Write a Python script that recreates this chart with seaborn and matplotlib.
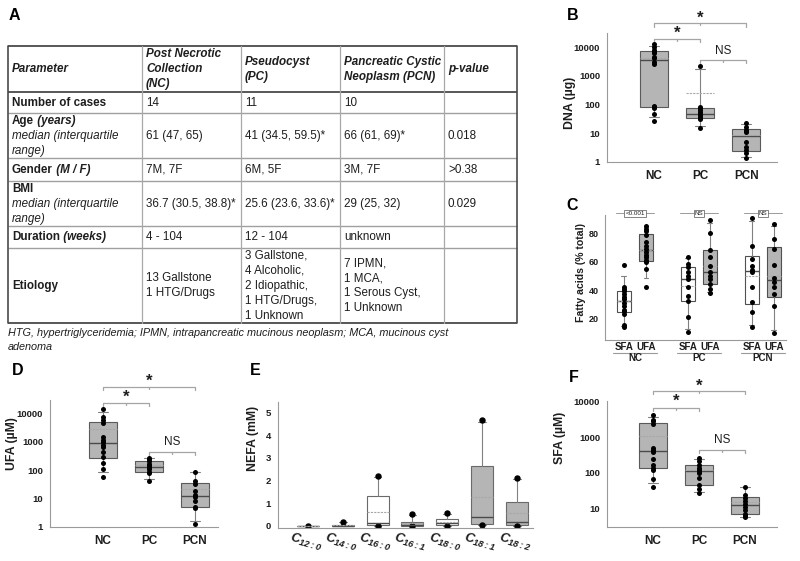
import numpy as np
import pandas as pd
import matplotlib
matplotlib.use("Agg")
import matplotlib.pyplot as plt
from matplotlib.ticker import FixedLocator, FuncFormatter, NullFormatter
import seaborn as sns

# ---- Table A ----
table_header = ["Parameter", "Post Necrotic\nCollection\n(NC)", "Pseudocyst\n(PC)",
                "Pancreatic Cystic\nNeoplasm (PCN)", "p-value"]
param_names = ["Number of cases", "Age", "Gender", "BMI", "Duration", "Etiology"]
param_units = ["", " (years)", " (M / F)", "", " (weeks)", ""]
param_notes = ["", "median (interquartile\nrange)", "", "median (interquartile\nrange)", "", ""]
col_nc = ["14", "61 (47, 65)", "7M, 7F", "36.7 (30.5, 38.8)*", "4 - 104", "13 Gallstone\n1 HTG/Drugs"]
col_pc = ["11", "41 (34.5, 59.5)*", "6M, 5F", "25.6 (23.6, 33.6)*", "12 - 104",
          "3 Gallstone,\n4 Alcoholic,\n2 Idiopathic,\n1 HTG/Drugs,\n1 Unknown"]
col_pcn = ["10", "66 (61, 69)*", "3M, 7F", "29 (25, 32)", "unknown",
           "7 IPMN,\n1 MCA,\n1 Serous Cyst,\n1 Unknown"]
col_p = ["", "0.018", ">0.38", "0.029", "", ""]
footnote = ["HTG, hypertriglyceridemia; IPMN, intrapancreatic mucinous neoplasm; MCA, mucinous cyst",
            "adenoma"]

groups = ["NC", "PC", "PCN"]

# ---- B: DNA (ug) ----
dna_nc = [27, 45, 75, 80, 85, 2600, 3000, 4000, 4400, 6200, 6800, 8000, 10000, 12400]
dna_pc = [15, 30, 33, 35, 42, 48, 55, 65, 75, 80, 2200]
dna_pcn = [1.4, 2, 2.6, 3.2, 5, 11, 12, 13, 16, 22]

# ---- C: fatty acids (% total) ----
pct_sfa_nc = [14, 15, 23, 25, 26, 29, 31, 34, 35, 37, 39, 40.5, 42, 57.5]
pct_ufa_nc = [42.4, 55, 60, 61, 63, 65, 67, 69, 71, 74, 79, 82, 83, 85.5]
pct_sfa_pc = [10.6, 20.7, 32, 36, 42, 47.5, 50, 52.5, 56, 58.5, 63.5]
pct_ufa_pc = [37.6, 41, 44, 48, 50, 52.5, 57, 63, 68, 80, 89.4]
pct_sfa_pcn = [14, 24.7, 31.8, 42.4, 52.5, 54, 57, 62, 71, 90.6]
pct_ufa_pcn = [9.9, 28.7, 37, 42.4, 46, 48.2, 57.6, 68.7, 75.8, 86.6]
pval_labels = ["<0.001", "NS", "NS"]

# ---- D: UFA (uM) ----
ufa_nc = [57, 110, 180, 300, 420, 650, 800, 950, 1200, 1500, 4500, 6000, 7500, 14500]
ufa_pc = [42, 80, 85, 110, 120, 132, 150, 170, 215, 240, 275]
ufa_pcn = [1.3, 4.5, 5, 8, 11, 13, 18, 33, 40, 88]

# ---- E: NEFA (mM) ----
nefa_labels = ["C$_{12:0}$", "C$_{14:0}$", "C$_{16:0}$", "C$_{16:1}$", "C$_{18:0}$", "C$_{18:1}$", "C$_{18:2}$"]
nefa_c12_0 = [0.0, 0.0, 0.0, 0.005, 0.005, 0.01, 0.01, 0.01, 0.015, 0.02]
nefa_c14_0 = [0.0, 0.0, 0.01, 0.01, 0.01, 0.02, 0.02, 0.03, 0.04, 0.19]
nefa_c16_0 = [0.0, 0.04, 0.04, 0.08, 0.12, 0.18, 0.6, 1.1, 1.9, 2.2]
nefa_c16_1 = [0.0, 0.01, 0.01, 0.02, 0.04, 0.06, 0.08, 0.11, 0.3, 0.52]
nefa_c18_0 = [0.0, 0.01, 0.03, 0.07, 0.1, 0.14, 0.2, 0.3, 0.4, 0.55]
nefa_c18_1 = [0.03, 0.05, 0.08, 0.15, 0.3, 0.45, 0.9, 2.2, 3.9, 4.66]
nefa_c18_2 = [0.0, 0.01, 0.03, 0.08, 0.15, 0.23, 0.5, 0.9, 1.5, 2.13]
nefa_saturated = [True, True, True, False, True, False, False]

# ---- F: SFA (uM) ----
sfa_nc = [39, 65, 120, 140, 170, 250, 380, 420, 450, 500, 2400, 2800, 3100, 4100]
sfa_pc = [26, 35, 45, 70, 100, 115, 120, 140, 170, 210, 260]
sfa_pcn = [5.5, 6, 7, 9, 11, 13, 16, 19, 24, 40]

sns.set_style("white")
plt.rcParams["font.family"] = ["Liberation Sans", "DejaVu Sans"]
plt.rcParams["mathtext.default"] = "regular"

GRAY = "#b5b5b5"
TXT = "#1e1e1e"
W, H = 800, 561

fig = plt.figure(figsize=(8, 5.61), dpi=100)

# pixel overlay for table, letters, footnote
ov = fig.add_axes([0, 0, 1, 1])
ov.set_xlim(0, W)
ov.set_ylim(H, 0)
ov.axis("off")


def rect(l, t, r, b):
    return [l / W, 1 - b / H, (r - l) / W, (b - t) / H]


def box_stats(vals):
    v = np.asarray(vals, float)
    p10, q1, med, q3, p90 = np.percentile(v, [10, 25, 50, 75, 90], method="weibull")
    return dict(med=med, q1=q1, q3=q3, whislo=p10, whishi=p90, mean=v.mean(),
                fliers=v[(v < p10) | (v > p90)])


def draw_boxes(ax, data, positions, fills, width, fliers=False, edge="#5a5a5a"):
    stats = [box_stats(v) for v in data]
    art = ax.bxp(stats, positions=positions, widths=width, capwidths=width * 0.35,
                 patch_artist=True, showmeans=True, meanline=True, showfliers=fliers,
                 manage_ticks=False,
                 boxprops=dict(edgecolor=edge, linewidth=0.8),
                 medianprops=dict(color="#4a4a4a", linewidth=1.0),
                 meanprops=dict(color="#a8a8a8", linewidth=0.8, linestyle=(0, (2, 1))),
                 whiskerprops=dict(color="#808080", linewidth=0.8),
                 capprops=dict(color="#808080", linewidth=0.8),
                 flierprops=dict(marker="o", markerfacecolor="k", markeredgecolor="k",
                                 markersize=3.6, linestyle="none"))
    for patch, fc in zip(art["boxes"], fills):
        patch.set_facecolor(fc)
        patch.set_zorder(1)


def draw_dots(ax, data, positions):
    df = pd.DataFrame({"pos": np.repeat(positions, [len(v) for v in data]),
                       "val": np.concatenate([np.asarray(v, float) for v in data])})
    sns.stripplot(data=df, x="pos", y="val", native_scale=True, jitter=False, orient="x",
                  color="k", size=3.6, linewidth=0, ax=ax, zorder=4)


def style_axes(ax):
    for s in ["top", "right"]:
        ax.spines[s].set_visible(False)
    for s in ["left", "bottom"]:
        ax.spines[s].set_color("#9a9a9a")
        ax.spines[s].set_linewidth(0.8)
    ax.tick_params(axis="y", which="both", length=3, width=0.7, color="#9a9a9a",
                   labelsize=6.8, labelcolor=TXT, pad=2)
    ax.tick_params(axis="x", length=0, labelsize=8.5, labelcolor=TXT, pad=6)
    for lab in ax.get_yticklabels():
        lab.set_fontweight("bold")


def log_axis(ax, lo, hi):
    ax.set_yscale("log")
    ax.set_ylim(lo, hi)
    majors = [1, 10, 100, 1000, 10000]
    minors = [3.1623, 31.623, 316.23, 3162.3, 31623]
    ax.yaxis.set_major_locator(FixedLocator(majors))
    ax.yaxis.set_minor_locator(FixedLocator(minors))
    ax.yaxis.set_major_formatter(FuncFormatter(lambda v, _: f"{v:g}"))
    ax.yaxis.set_minor_formatter(NullFormatter())


def bracket(ax, x1, x2, y, label, ty, size, bold):
    tr = ax.get_xaxis_transform()
    ax.plot([x1, x1, x2, x2], [y - 0.025, y, y, y - 0.025], transform=tr, clip_on=False,
            color="#a5a5a5", linewidth=0.9)
    ax.plot([(x1 + x2) / 2] * 2, [y, y - 0.015], transform=tr, clip_on=False,
            color="#a5a5a5", linewidth=0.9)
    ax.text((x1 + x2) / 2, ty, label, transform=tr, ha="center", va="center",
            fontsize=size, fontweight="bold" if bold else "normal", color=TXT, clip_on=False)


def group_panel(box, data, ylabel, ylab_xy, lim, ylo, yhi, brk):
    ax = fig.add_axes(rect(*box))
    log_axis(ax, ylo, yhi)
    pos = [0, 1, 2]
    draw_boxes(ax, data, pos, [GRAY] * 3, 0.61)
    draw_dots(ax, data, pos)
    ax.set_xlim(*lim)
    ax.set_ylim(ylo, yhi)
    ax.set_xticks(pos)
    ax.set_xticklabels(groups, fontweight="bold")
    ax.set_xlabel("")
    ax.set_ylabel(ylabel, fontsize=8.8, fontweight="bold", color=TXT)
    ax.yaxis.set_label_coords(*ylab_xy)
    style_axes(ax)
    (yo, to), (yi, ti), (yn, tn) = brk
    bracket(ax, 0, 2, yo, "*", to, 12, True)
    bracket(ax, 0, 1, yi, "*", ti, 12, True)
    bracket(ax, 1, 2, yn, "NS", tn, 8.5, False)
    return ax


# ---- B ----
group_panel((607, 33, 777, 161.7), [dna_nc, dna_pc, dna_pcn], "DNA (\u00b5g)", (-0.18, 0.46),
            (-1.02, 2.67), 1, 10 ** 4.49,
            [(1.075, 1.115), (0.953, 0.995), (0.79, 0.86)])

# ---- D ----
group_panel((50, 400, 218, 527), [ufa_nc, ufa_pc, ufa_pcn], "UFA (\u00b5M)", (-0.19, 0.66),
            (-1.15, 2.5), 1, 10 ** 4.47,
            [(1.105, 1.15), (0.978, 1.025), (0.59, 0.67)])

# ---- F ----
group_panel((607, 401, 777, 527), [sfa_nc, sfa_pc, sfa_pcn], "SFA (\u00b5M)", (-0.24, 0.71),
            (-1.0, 2.7), 10 ** 0.47, 10 ** 4.02,
            [(1.08, 1.12), (0.947, 0.995), (0.61, 0.69)])

# ---- C ----
axc = fig.add_axes(rect(605, 215, 786, 340))
c_pos = [0, 1, 2.9, 3.9, 5.8, 6.8]
c_data = [pct_sfa_nc, pct_ufa_nc, pct_sfa_pc, pct_ufa_pc, pct_sfa_pcn, pct_ufa_pcn]
draw_boxes(axc, c_data, c_pos, ["white", GRAY] * 3, 0.64, edge="#505050")
draw_dots(axc, c_data, c_pos)
axc.set_xlim(-0.86, 7.35)
axc.set_ylim(4.7, 93)
axc.set_yticks([20, 40, 60, 80])
axc.set_xticks([])
axc.set_xlabel("")
axc.set_ylabel("Fatty acids (% total)", fontsize=7.6, fontweight="bold", color=TXT)
axc.yaxis.set_label_coords(-0.105, 0.54)
style_axes(axc)
axc.tick_params(axis="y", labelsize=6.5, pad=1.5)
trc = axc.get_xaxis_transform()
for i, g in enumerate(groups):
    xs, xu = c_pos[2 * i], c_pos[2 * i + 1]
    axc.text(xs, -0.055, "SFA", transform=trc, ha="center", va="center", fontsize=7,
             fontweight="bold", color=TXT)
    axc.text(xu, -0.055, "UFA", transform=trc, ha="center", va="center", fontsize=7,
             fontweight="bold", color=TXT)
    axc.plot([xs - 0.5, xu + 0.5], [-0.1, -0.1], transform=trc, clip_on=False,
             color="#9a9a9a", linewidth=0.8)
    axc.text((xs + xu) / 2, -0.145, g, transform=trc, ha="center", va="center", fontsize=7,
             fontweight="bold", color=TXT)
    axc.plot([xs - 0.35, xu + 0.35], [1.013, 1.013], transform=trc, clip_on=False,
             color="#9a9a9a", linewidth=0.7)
    axc.text((xs + xu) / 2, 1.013, pval_labels[i], transform=trc, ha="center", va="center",
             fontsize=4.5, color=TXT, clip_on=False,
             bbox=dict(boxstyle="square,pad=0.15", fc="white", ec="#707070", lw=0.6))

# ---- E ----
axe = fig.add_axes(rect(278, 402, 533, 528))
e_data = [nefa_c12_0, nefa_c14_0, nefa_c16_0, nefa_c16_1, nefa_c18_0, nefa_c18_1, nefa_c18_2]
e_pos = list(range(len(e_data)))
draw_boxes(axe, e_data, e_pos, ["white" if s else GRAY for s in nefa_saturated], 0.63,
           fliers=True, edge="#6a6a6a")
axe.set_xlim(-0.86, 6.46)
axe.set_ylim(-0.09, 5.46)
axe.set_yticks([0, 1, 2, 3, 4, 5])
axe.set_xticks(e_pos)
axe.set_xticklabels(nefa_labels, rotation=-15, rotation_mode="anchor", ha="center", va="top",
                    fontweight="bold", fontstyle="italic")
axe.set_ylabel("NEFA (mM)", fontsize=8.8, fontweight="bold", color=TXT)
axe.yaxis.set_label_coords(-0.075, 0.71)
style_axes(axe)
axe.tick_params(axis="x", labelsize=9.5, pad=5)

# ---- table ----
row_edges = [46, 92, 113, 158, 181, 226, 248, 323]
col_edges = [8, 142, 241, 340, 444, 517]
LINE = 15
FS = 8.4


def put_line(x, y, segments):
    prev = None
    for txt, weight, style in segments:
        if prev is None:
            prev = ov.text(x, y, txt, fontsize=FS, fontweight=weight, fontstyle=style,
                           ha="left", va="center", color=TXT)
        else:
            prev = ov.annotate(txt, xy=(1, 0.5), xycoords=prev, fontsize=FS, fontweight=weight,
                               fontstyle=style, ha="left", va="center", color=TXT)


def put_cell(ci, ri, lines):
    yc = (row_edges[ri] + row_edges[ri + 1]) / 2
    n = len(lines)
    for k, segs in enumerate(lines):
        put_line(col_edges[ci] + 4, yc + (k - (n - 1) / 2) * LINE, segs)


for ci, h in enumerate(table_header):
    put_cell(ci, 0, [[(s, "bold", "italic")] for s in h.split("\n")])

for ri in range(len(param_names)):
    first = [(param_names[ri], "bold", "normal")]
    if param_units[ri]:
        first.append((param_units[ri], "bold", "italic"))
    lines = [first]
    if param_notes[ri]:
        lines += [[(s, "normal", "italic")] for s in param_notes[ri].split("\n")]
    put_cell(0, ri + 1, lines)
    for ci, col in enumerate([col_nc, col_pc, col_pcn, col_p], start=1):
        if col[ri]:
            put_cell(ci, ri + 1, [[(s, "normal", "normal")] for s in col[ri].split("\n")])

for k, y in enumerate(row_edges):
    dark = k in (0, 1, len(row_edges) - 1)
    ov.plot([col_edges[0], col_edges[-1]], [y, y], color="#4a4a4a" if dark else "#a0a0a0",
            linewidth=1.3 if dark else 1.0, solid_capstyle="butt")
for k, x in enumerate(col_edges):
    outer = k in (0, len(col_edges) - 1)
    ov.plot([x, x], [row_edges[0], row_edges[-1]], color="#4a4a4a" if outer else "#a8a8a8",
            linewidth=1.2 if outer else 0.9)

for k, line in enumerate(footnote):
    ov.text(8, 333 + 14 * k, line, fontsize=7.8, fontstyle="italic", color=TXT,
            ha="left", va="center")

# panel letters
for letter, x, y in [("A", 14, 15), ("B", 573, 15.5), ("C", 572, 205), ("D", 17.5, 370),
                     ("E", 255, 370), ("F", 574, 377)]:
    ov.text(x, y, letter, fontsize=11.5, fontweight="bold", color="k", ha="center", va="center")

fig.savefig("out.png", dpi=100)
